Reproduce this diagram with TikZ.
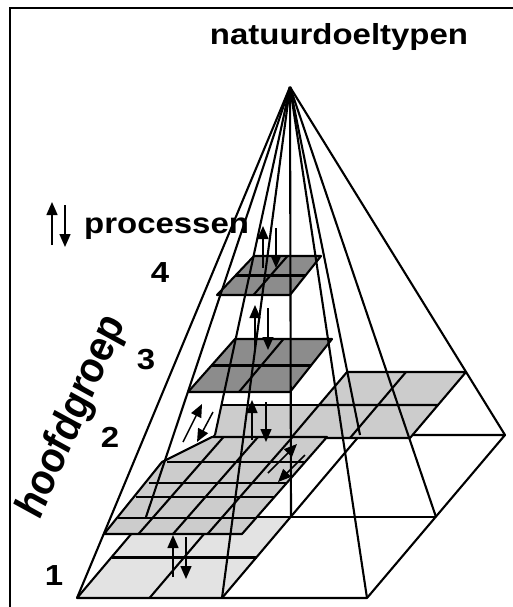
\documentclass[tikz,border=0pt]{standalone}
\usepackage{fontspec}
\setmainfont{Liberation Sans}
\newfontfamily\widesf[FakeStretch=1.136]{Liberation Sans}
\usetikzlibrary{arrows.meta,calc}
\definecolor{darkfill}{HTML}{8C8C8C}
\definecolor{midfill}{HTML}{CCCCCC}
\definecolor{lightfill}{HTML}{E3E3E3}
\tikzset{
  edge/.style={line width=2.1pt, line join=round},
  layer/.style={fill=#1, draw=black, edge},
  flow/.style={-{Triangle[length=13pt,width=11pt]}, line width=1.5pt},
  lbl/.style={font=\widesf\bfseries\fontsize{29}{30}\selectfont, inner sep=0pt},
}
% grid inside a quadrilateral: corners FL,FR,BR,BL ; #5 columns, #6 rows
\newcommand{\cellgrid}[6]{%
  \foreach \i in {1,...,\numexpr#5-1\relax}{
    \draw[edge] ($(#1)!\i/#5!(#2)$) -- ($(#4)!\i/#5!(#3)$);}
  \foreach \j in {1,...,\numexpr#6-1\relax}{
    \draw[edge] ($(#1)!\j/#6!(#4)$) -- ($(#2)!\j/#6!(#3)$);}
}
\begin{document}
\begin{tikzpicture}[x=1pt, y=-1pt]
  \useasboundingbox (0,0) rectangle (513,607);
  % frame
  \draw[line width=2pt] (10,607) -- (10,8) -- (513,8);

  % apex and base grid
  \coordinate (top) at (290,87);
  \coordinate (b00) at (77,598);  \coordinate (b10) at (222,598); \coordinate (b20) at (367,598);
  \coordinate (b01) at (146,517); \coordinate (b11) at (291,517); \coordinate (b21) at (436,517);
  \coordinate (b02) at (215,435); \coordinate (b12) at (360,435); \coordinate (b22) at (505,435);

  % level 1 (base, front left quarter)
  \fill[lightfill] (b00) -- (b10) -- (b11) -- (b01) -- cycle;
  \draw[edge] (b00) -- (b20) -- (b22) -- (b02) -- cycle;
  \draw[edge] (b01) -- (b21);
  \draw[edge] (b10) -- (b12);
  \cellgrid{b00}{b10}{b11}{b01}{2}{2}

  % level 2 (back part)
  \coordinate (p2fl) at (215,438); \coordinate (p2fr) at (410,438);
  \coordinate (p2br) at (466,372); \coordinate (p2bl) at (347,372);
  \fill[midfill] (p2fl) -- (p2fr) -- (p2br) -- (p2bl) -- (319,405) -- (222,405) -- cycle;
  \draw[edge] (p2fl) -- (p2fr) -- (p2br) -- (p2bl) -- (319,405) -- (437,405);
  \draw[edge] (222,405) -- (319,405);
  \draw[edge] (406,372) -- (350,438);
  \draw[edge] (319,405) -- (291,438);

  % level 2 (front part, finer cells)
  \coordinate (q2fl) at (104,534); \coordinate (q2fr) at (242,534);
  \coordinate (q2br) at (327,437); \coordinate (q2bl) at (189,437);
  \fill[midfill] (q2fl) -- (q2fr) -- (q2br) -- (212,437) -- (162,462) -- cycle;
  \draw[edge] (q2fl) -- (q2fr) -- (q2br) -- (212,437) -- (162,462) -- cycle;
  \foreach \i in {1,2,3}
    \draw[edge] ($(q2fl)!\i/4!(q2fr)$) -- ($(q2bl)!\i/4!(q2br)$);
  \foreach \f in {0.165,0.381,0.526,0.742}
    \draw[edge] ($(q2fl)!\f!(q2bl)$) -- ($(q2fr)!\f!(q2br)$);

  % level 3
  \coordinate (l3fl) at (188,392); \coordinate (l3fr) at (290,392);
  \coordinate (l3br) at (332,339); \coordinate (l3bl) at (235,339);
  \draw[layer=darkfill] (l3fl) -- (l3fr) -- (l3br) -- (l3bl) -- cycle;
  \cellgrid{l3fl}{l3fr}{l3br}{l3bl}{2}{2}

  % level 4
  \coordinate (l4fl) at (217,295); \coordinate (l4fr) at (290,295);
  \coordinate (l4br) at (321,256); \coordinate (l4bl) at (254,256);
  \draw[layer=darkfill] (l4fl) -- (l4fr) -- (l4br) -- (l4bl) -- cycle;
  \cellgrid{l4fl}{l4fr}{l4br}{l4bl}{2}{2}

  % ribs from the top
  \foreach \b in {b00,b10,b20,b01,b11,b21,b02,b12,b22}
    \draw[edge] (top) -- (\b);

  % processes
  \draw[flow] (263,268) -- (263,226);
  \draw[flow] (276,228) -- (276,268);
  \draw[flow] (255,350) -- (255,305);
  \draw[flow] (268,308) -- (268,350);
  \draw[flow] (252,440) -- (252,400);
  \draw[flow] (266,402) -- (266,442);
  \draw[flow] (183,442) -- (202,404);
  \draw[flow] (213,412) -- (197,442);
  \draw[flow] (268,473) -- (297,444);
  \draw[flow] (305,455) -- (278,482);
  \draw[flow] (173,577) -- (173,535);
  \draw[flow] (186,537) -- (186,579);

  % labels
  \node[lbl, anchor=base] (title) at (339,45) {natuurdoeltypen};
  \draw[flow] (52,245) -- (52,202);
  \draw[flow] (65,205) -- (65,247);
  \node[lbl, anchor=base west] (proc) at (84,233) {processen};
  \node[lbl] (n4) at (160,273) {4};
  \node[lbl] (n3) at (146,360) {3};
  \node[lbl] (n2) at (110,437) {2};
  \node[lbl] (n1) at (54,576) {1};
  \begin{scope}[xscale=1.136, transform shape]
    \node[rotate=69, inner sep=0pt, font=\bfseries\itshape\fontsize{38}{40}\selectfont]
      (grp) at (64.3,417) {hoofdgroep};
  \end{scope}
\end{tikzpicture}
\end{document}
